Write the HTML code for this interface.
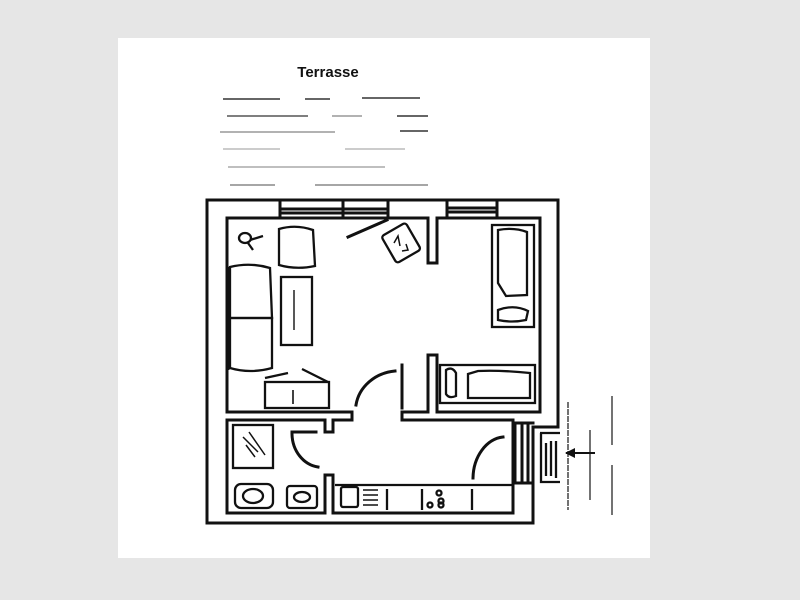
<!DOCTYPE html>
<html><head><meta charset="utf-8"><style>
html,body{margin:0;padding:0;background:#e6e6e6;}
svg{display:block;}
</style></head><body>
<svg width="800" height="600" viewBox="0 0 800 600" xmlns="http://www.w3.org/2000/svg">
<rect x="0" y="0" width="800" height="600" fill="#e6e6e6"/>
<rect x="118" y="38" width="532" height="520" fill="#ffffff"/>
<text x="328" y="77" font-family="Liberation Sans, sans-serif" font-weight="bold" font-size="15" text-anchor="middle" fill="#111">Terrasse</text>
<g stroke="#333" stroke-width="1.6">
<line x1="223" y1="99" x2="280" y2="99"/><line x1="305" y1="99" x2="330" y2="99"/><line x1="362" y1="98" x2="420" y2="98"/>
<line x1="227" y1="116" x2="308" y2="116" stroke="#555"/><line x1="332" y1="116" x2="362" y2="116" stroke="#999"/><line x1="397" y1="116" x2="428" y2="116"/>
<line x1="220" y1="132" x2="335" y2="132" stroke="#999"/><line x1="400" y1="131" x2="428" y2="131"/>
<line x1="223" y1="149" x2="280" y2="149" stroke="#bbb"/><line x1="345" y1="149" x2="405" y2="149" stroke="#bbb"/>
<line x1="228" y1="167" x2="385" y2="167" stroke="#aaa"/>
<line x1="230" y1="185" x2="275" y2="185" stroke="#888"/><line x1="315" y1="185" x2="428" y2="185" stroke="#888"/>
</g>
<g fill="none" stroke="#111" stroke-width="3" stroke-linecap="square">
<path d="M207,200 H558 V427 H533 V523 H207 Z"/>
<path d="M352,412 H227 V218 H428 V263 H437 V218 H540 V412 H437 V355 H428 V412 H402"/>
<path d="M352,412 V420 H333 V432 H325 V420 H227 V513 H325 V475 H333 V513 H513 V420 H402 V412"/>
<line x1="280" y1="200" x2="280" y2="218"/><line x1="343" y1="200" x2="343" y2="218"/><line x1="388" y1="200" x2="388" y2="218"/>
<line x1="447" y1="200" x2="447" y2="218"/><line x1="497" y1="200" x2="497" y2="218"/>
<line x1="280" y1="209" x2="388" y2="209"/><line x1="280" y1="213" x2="388" y2="213"/>
<line x1="447" y1="208" x2="497" y2="208"/><line x1="447" y1="212" x2="497" y2="212"/>
<path d="M513,423 H533 M515,423 V483 H533 M522,425 V480 M528,425 V480"/>
<path d="M356,405 A44,40 0 0 1 395,371"/><line x1="402" y1="365" x2="402" y2="408"/>
<path d="M292,434 A30,34 0 0 0 318,467"/><line x1="292" y1="432" x2="316" y2="432"/>
<path d="M473,478 A33,42 0 0 1 503,437"/>
<line x1="348" y1="237" x2="387" y2="220"/>
</g>
<g fill="none" stroke="#111" stroke-width="2.3">
<path d="M540,433 H560 M541,433 V482 H560 M546,443 V476 M551,441 V476 M556,441 V478"/>
<path d="M230,267 Q250,262 270,268 L272,318 L230,318 Z"/>
<path d="M230,318 L272,318 L272,368 Q250,374 230,368 Z"/>
<line x1="228" y1="267" x2="228" y2="370" stroke-width="3"/>
<rect x="281" y="277" width="31" height="68"/>
<line x1="294" y1="290" x2="294" y2="330" stroke-width="1.4"/>
<path d="M279,229 Q296,224 313,230 L315,266 Q296,270 279,265 Z"/>
<ellipse cx="245" cy="238" rx="6" ry="5"/><path d="M250,240 L263,236 M248,243 L253,250"/>
<rect x="265" y="382" width="64" height="26"/><line x1="265" y1="378" x2="288" y2="373"/><line x1="302" y1="369" x2="328" y2="382"/>
<line x1="293" y1="390" x2="293" y2="404" stroke-width="1.6"/>
<g transform="rotate(-30 400 243)"><rect x="387" y="228" width="28" height="31" rx="3"/></g>
<path d="M394,243 L398,236 L400,246 M402,251 L408,250 L406,244" stroke-width="1.5"/>
<rect x="492" y="225" width="42" height="102"/>
<path d="M498,230 Q514,227 527,232 L527,295 L506,296 L498,283 Z"/>
<path d="M498,310 Q514,304 528,311 L526,320 Q512,323 498,320 Z"/>
<rect x="440" y="365" width="95" height="38"/>
<path d="M446,370 Q452,366 456,373 L456,396 Q449,399 446,394 Z"/>
<path d="M468,374 L478,371 Q500,370 530,373 L530,398 L468,398 Z"/>
<rect x="233" y="425" width="40" height="43"/>
<path d="M243,437 L258,452 M246,445 L255,457 M249,432 L265,455" stroke-width="1.5"/>
<rect x="235" y="484" width="38" height="24" rx="6"/><ellipse cx="253" cy="496" rx="10" ry="7"/>
<rect x="287" y="486" width="30" height="22" rx="3"/><ellipse cx="302" cy="497" rx="8" ry="5"/>
<line x1="335" y1="485" x2="513" y2="485"/>
<rect x="341" y="487" width="17" height="20" rx="2"/>
<path d="M363,490 H378 M363,495 H378 M363,500 H378 M363,505 H378" stroke-width="1.5"/>
<line x1="387" y1="489" x2="387" y2="510"/><line x1="422" y1="489" x2="422" y2="510"/><line x1="472" y1="489" x2="472" y2="510"/>
<circle cx="439" cy="493" r="2.5"/><circle cx="441" cy="501" r="2.5"/><circle cx="430" cy="505" r="2.5"/><circle cx="441" cy="505" r="2.5"/>
</g>
<g stroke="#444" stroke-width="1.5">
<line x1="568" y1="402" x2="568" y2="510" stroke-dasharray="6 1"/>
<line x1="590" y1="430" x2="590" y2="500"/>
<line x1="612" y1="396" x2="612" y2="445"/><line x1="612" y1="465" x2="612" y2="515"/>
<line x1="566" y1="453" x2="595" y2="453" stroke="#111" stroke-width="2"/>
</g>
<path d="M565,453 L575,448 L575,458 Z" fill="#111"/>
</svg>
</body></html>
